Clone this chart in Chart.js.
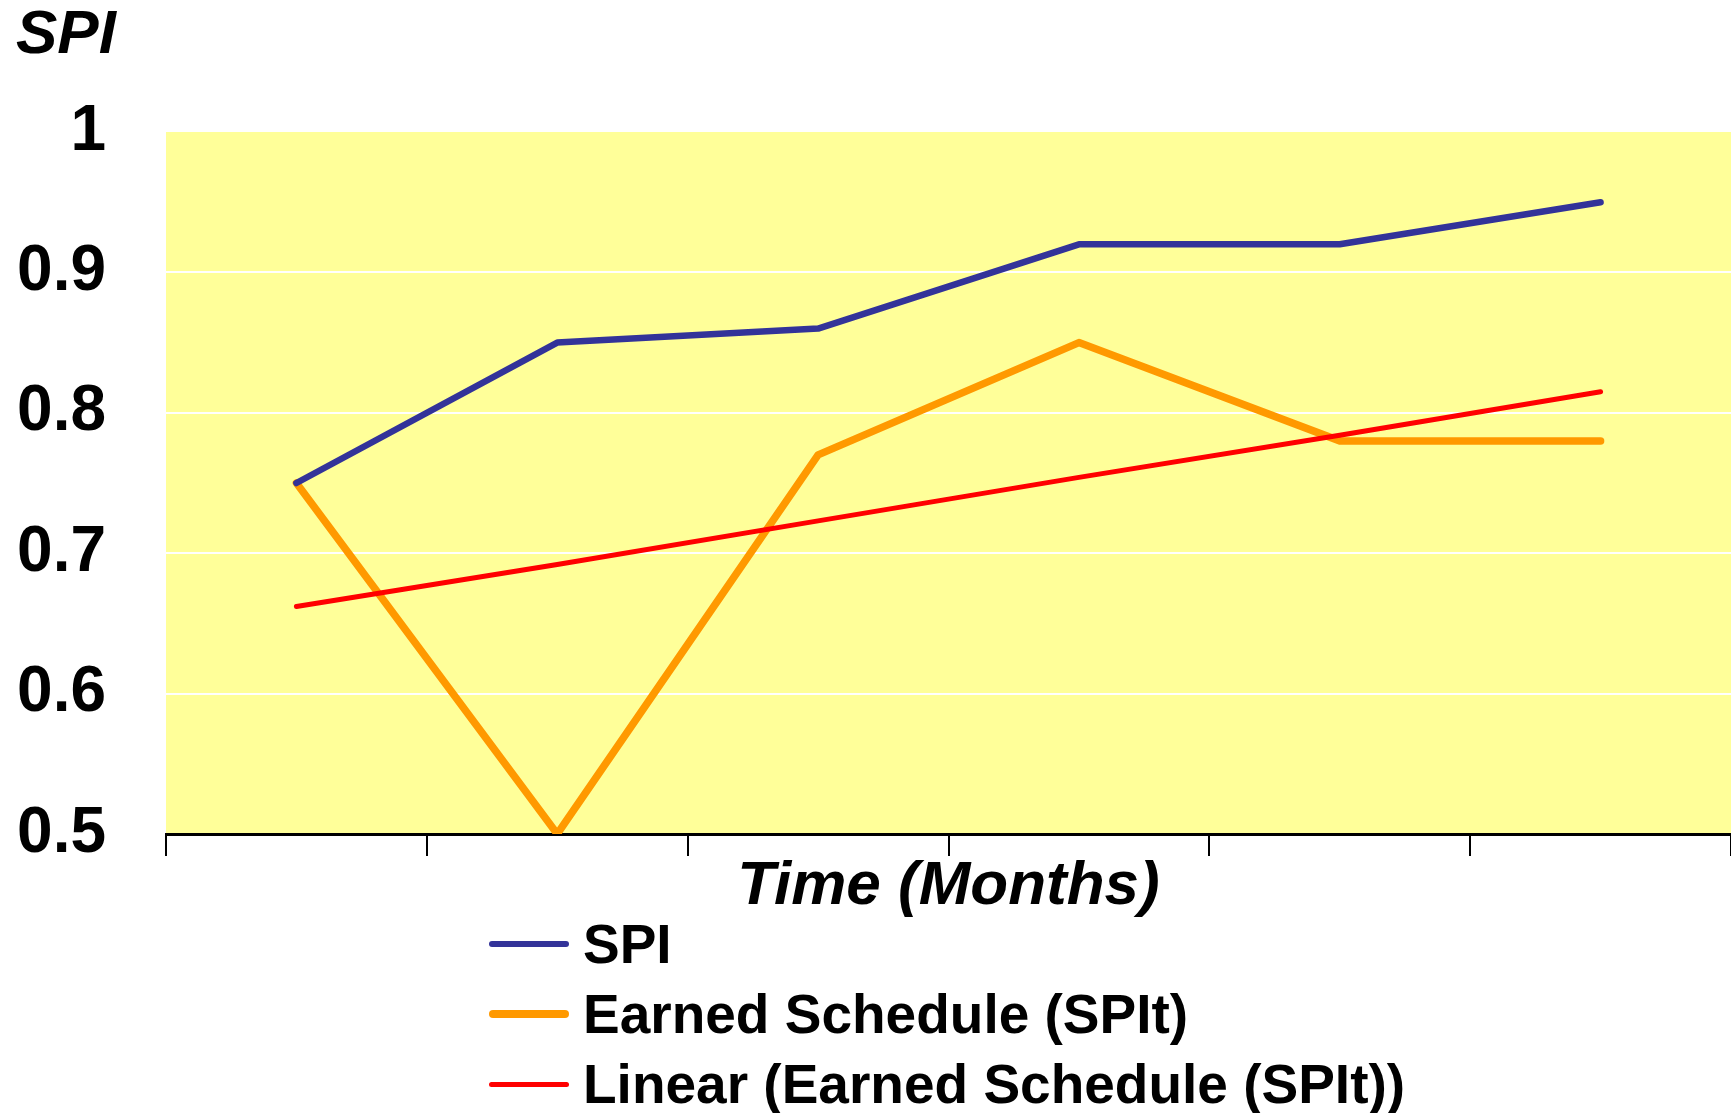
<!DOCTYPE html>
<html lang="en">
<head>
    <meta charset="UTF-8">
    <title>SPI vs Earned Schedule</title>
    <script src="https://cdn.jsdelivr.net/npm/chart.js"></script>
    <style>
        body { margin: 0; background: #ffffff; overflow: hidden; }
        .wrap { position: relative; width: 1731px; height: 1113px; }
        .legend {
            position: absolute; left: 489px; top: 909px;
            font-family: "Liberation Sans", Arial, sans-serif; font-weight: bold; font-size: 55px;
            color: #000000;
        }
        .legend .row { height: 70px; display: flex; align-items: center; white-space: nowrap; }
        .legend .swatch { width: 80px; margin-right: 14px; border-radius: 4px; }
    </style>
</head>
<body>
    <div class="wrap">
        <canvas id="spiChart"></canvas>
        <div class="legend" id="legend"></div>
    </div>

    <script>
        // months along the x axis (labels are not shown in the original)
        var months = ['1', '2', '3', '4', '5', '6'];
        var spiValues = [0.75, 0.85, 0.86, 0.92, 0.92, 0.95];
        var spitValues = [0.75, 0.50, 0.77, 0.85, 0.78, 0.78];
        var trendValues = [0.662, 0.692, 0.723, 0.754, 0.784, 0.815];
        var yTicks = [0.5, 0.6, 0.7, 0.8, 0.9, 1];

        var labelFont = "'Liberation Sans', Arial, sans-serif";

        // yellow plot background
        var plotBackground = {
            id: 'plotBackground',
            beforeDraw: function (chart) {
                var a = chart.chartArea;
                var ctx = chart.ctx;
                ctx.save();
                ctx.fillStyle = '#FFFF99';
                ctx.fillRect(a.left, a.top, a.right - a.left, a.bottom - a.top);
                ctx.restore();
            }
        };

        var ctx = document.getElementById('spiChart').getContext('2d');
        var spiChart = new Chart(ctx, {
            type: 'line',
            data: {
                labels: months,
                datasets: [
                    {
                        label: 'SPI',
                        data: spiValues,
                        borderColor: '#333399',
                        borderWidth: 6.5,
                        order: 1
                    },
                    {
                        label: 'Earned Schedule (SPIt)',
                        data: spitValues,
                        borderColor: '#FF9900',
                        borderWidth: 7.5,
                        order: 2
                    },
                    {
                        label: 'Linear (Earned Schedule (SPIt))',
                        data: trendValues,
                        borderColor: '#FF0000',
                        borderWidth: 5,
                        order: 0
                    }
                ]
            },
            options: {
                responsive: true,
                maintainAspectRatio: false,
                animation: false,
                elements: {
                    point: { radius: 0, hoverRadius: 0 },
                    line: { tension: 0, borderCapStyle: 'round', borderJoinStyle: 'round', fill: false }
                },
                layout: { padding: { left: 16, right: 0, top: 0, bottom: 189 } },
                plugins: {
                    legend: { display: false },
                    tooltip: { enabled: false },
                    title: {
                        display: true,
                        text: 'SPI',
                        align: 'start',
                        color: '#000000',
                        font: { family: labelFont, size: 62, weight: 'bold', style: 'italic', lineHeight: 1 },
                        padding: { top: 5, bottom: 65 }
                    }
                },
                scales: {
                    x: {
                        offset: true,
                        grid: {
                            offset: true,
                            drawOnChartArea: false,
                            drawTicks: true,
                            tickLength: 22,
                            color: '#000000',
                            lineWidth: 2
                        },
                        border: { display: true, color: '#000000', width: 3 },
                        ticks: { display: false },
                        title: {
                            display: true,
                            text: 'Time (Months)',
                            color: '#000000',
                            font: { family: labelFont, size: 62, weight: 'bold', style: 'italic', lineHeight: 1.2 },
                            padding: 0
                        },
                        afterFit: function (scale) { scale.height = 90; }
                    },
                    y: {
                        min: 0.5,
                        max: 1,
                        afterBuildTicks: function (scale) {
                            scale.ticks = yTicks.map(function (v) { return { value: v }; });
                        },
                        grid: {
                            drawTicks: false,
                            lineWidth: 2,
                            color: function (c) {
                                var v = c.tick ? c.tick.value : null;
                                return (v === 0.5 || v === 1) ? 'rgba(0,0,0,0)' : '#ffffff';
                            }
                        },
                        border: { display: false },
                        ticks: {
                            padding: 60,
                            color: '#000000',
                            font: { family: labelFont, size: 64, weight: 'bold' },
                            callback: function (v) { return String(Number(Number(v).toFixed(1))); }
                        },
                        afterFit: function (scale) { scale.width = 150; }
                    }
                }
            },
            plugins: [plotBackground]
        });

        // legend rows in dataset order
        var legend = document.getElementById('legend');
        spiChart.data.datasets.forEach(function (ds) {
            var row = document.createElement('div');
            row.className = 'row';
            var swatch = document.createElement('span');
            swatch.className = 'swatch';
            swatch.style.background = ds.borderColor;
            swatch.style.height = ds.borderWidth + 'px';
            var text = document.createElement('span');
            text.textContent = ds.label;
            row.appendChild(swatch);
            row.appendChild(text);
            legend.appendChild(row);
        });
    </script>
</body>
</html>
